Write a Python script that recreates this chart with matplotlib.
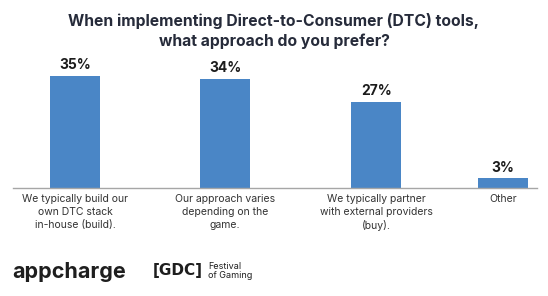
import numpy as np
import matplotlib
matplotlib.use('Agg')
import matplotlib.pyplot as plt

# survey answers and shares (%)
categories = ['We typically build our\nown DTC stack\nin-house (build).',
              'Our approach varies\ndepending on the\ngame.',
              'We typically partner\nwith external providers\n(buy).',
              'Other']
shares = [35, 34, 27, 3]
title = 'When implementing Direct-to-Consumer (DTC) tools,\nwhat approach do you prefer?'

BAR_COLOR = '#4a86c6'
TITLE_COLOR = '#262b3a'

fig = plt.figure(figsize=(5.48, 2.96), dpi=100)
ax = fig.add_axes([0.0232, 0.365, 0.957, 0.432])

xpos = np.array([0, 1, 2.007, 2.853])  # last slot sits closer, as in the source
bars = ax.bar(xpos, shares, width=0.333, color=BAR_COLOR)

for b, v in zip(bars, shares):  # value labels above the bars
    ax.text(b.get_x() + b.get_width() / 2, v + 1.2, f'{v}%', ha='center', va='bottom',
            fontsize=10, fontweight='bold', color='#1c1c1c', family='Inter')

ax.set_xlim(-0.415, 3.08)
ax.set_ylim(0, 40)
ax.set_yticks([])
ax.set_xticks(xpos)
ax.set_xticklabels(categories, fontsize=7.5, color='#333333', family='Inter', linespacing=1.4)
ax.tick_params(axis='x', length=0, pad=4)
for s in ['top', 'right', 'left']:
    ax.spines[s].set_visible(False)
ax.spines['bottom'].set_color('#a6a6a6')
ax.spines['bottom'].set_linewidth(1)

fig.text(0.5, 0.955, title, ha='center', va='top', fontsize=11.3, fontweight='bold',
         color=TITLE_COLOR, family='Inter', linespacing=1.3)

# footer logos drawn as text
fig.text(0.022, 0.08, 'appcharge', ha='left', va='center', fontsize=15.5, fontweight='bold',
         color='#1e1e1e', family='Inter')
fig.text(0.278, 0.085, '[GDC]', ha='left', va='center', fontsize=11, fontweight='heavy',
         color='#1e1e1e', family='DejaVu Sans')
fig.text(0.38, 0.085, 'Festival\nof Gaming', ha='left', va='center', fontsize=6.5,
         color='#1e1e1e', family='Inter', linespacing=1.0)

fig.savefig('out.png', dpi=100)
